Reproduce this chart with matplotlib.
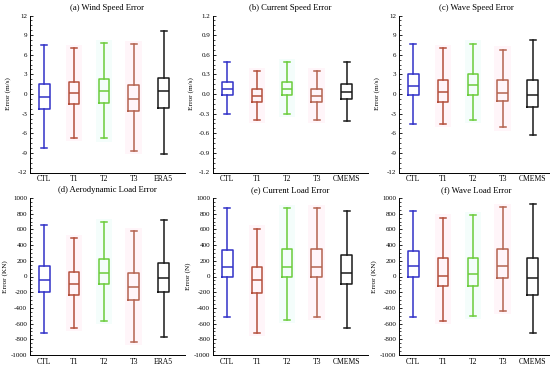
import numpy as np
import matplotlib.pyplot as plt
from matplotlib.ticker import AutoMinorLocator, MultipleLocator

plt.rcParams['font.family'] = ['Liberation Serif', 'DejaVu Serif']
plt.rcParams['axes.unicode_minus'] = False

# stats per box: (whisker high, q3, median, q1, whisker low)
wind_speed = [
    [7.5, 1.6, -0.5, -2.3, -8.3],
    [7.0, 1.9, 0.1, -1.5, -6.7],
    [7.8, 2.3, 0.5, -1.3, -6.8],
    [7.6, 1.4, -0.7, -2.6, -8.7],
    [9.6, 2.5, 0.4, -2.1, -9.1],
]
current_speed = [
    [0.49, 0.19, 0.08, -0.02, -0.31],
    [0.35, 0.07, -0.03, -0.12, -0.39],
    [0.49, 0.19, 0.08, -0.02, -0.31],
    [0.35, 0.07, -0.03, -0.12, -0.39],
    [0.49, 0.15, 0.03, -0.08, -0.41],
]
wave_speed = [
    [7.7, 3.0, 1.2, -0.1, -4.6],
    [7.0, 2.1, 0.3, -1.2, -4.6],
    [7.7, 3.1, 1.3, -0.2, -4.0],
    [6.8, 2.1, 0.2, -1.1, -5.1],
    [8.3, 2.1, -0.2, -2.0, -6.2],
]
aero_load = [
    [650, 140, -40, -200, -720],
    [490, 60, -90, -230, -660],
    [690, 220, 50, -100, -570],
    [580, 50, -130, -300, -830],
    [720, 170, -20, -200, -770],
]
current_load = [
    [870, 340, 120, -10, -510],
    [610, 120, -40, -210, -720],
    [870, 350, 120, -10, -550],
    [870, 350, 120, -10, -510],
    [830, 280, 40, -90, -650],
]
wave_load = [
    [840, 330, 130, -10, -510],
    [750, 230, 10, -120, -570],
    [780, 230, 30, -120, -500],
    [880, 350, 140, -20, -440],
    [920, 230, -20, -230, -720],
]

labels_era = ['CTL', 'T1', 'T2', 'T3', 'ERA5']
labels_cmems = ['CTL', 'T1', 'T2', 'T3', 'CMEMS']
colors = ['#3232c8', '#b4503c', '#6ccc3c', '#b46450', '#1a1a1a']
shade = [None, '#fff5f9', '#f4fdfb', '#fff5f9', None]

panels = [
    ('(a) Wind Speed Error', wind_speed, labels_era, 'Error (m/s)', 12, 3),
    ('(b) Current Speed Error', current_speed, labels_cmems, 'Error (m/s)', 1.2, 0.3),
    ('(c) Wave Speed Error', wave_speed, labels_cmems, 'Error (m/s)', 12, 3),
    ('(d) Aerodynamic Load Error', aero_load, labels_era, 'Error (KN)', 1000, 200),
    ('(e) Current Load Error', current_load, labels_cmems, 'Error (N)', 1000, 200),
    ('(f) Wave Load Error', wave_load, labels_cmems, 'Error (KN)', 1000, 200),
]

fig = plt.figure(figsize=(5.5, 3.65), dpi=100)
lefts = [30, 213, 399]
tops = [15.5, 198]
w_px, h_px = 155, 157
label_off = [-19, -22]

for k, (title, data, labels, ylabel, lim, step) in enumerate(panels):
    r, c = divmod(k, 3)
    ax = fig.add_axes([lefts[c] / 550, 1 - (tops[r] + h_px) / 365, w_px / 550, h_px / 365])
    pos = np.arange(1, 6)
    for i, (hi, q3, med, q1, lo) in enumerate(data):
        if shade[i]:
            ax.fill_between([pos[i] - 0.28, pos[i] + 0.28], lo - 0.04 * lim, hi + 0.04 * lim,
                            color=shade[i], lw=0, zorder=0)
        st = [dict(med=med, q1=q1, q3=q3, whislo=lo, whishi=hi, fliers=[])]
        col = colors[i]
        ax.bxp(st, positions=[pos[i]], widths=0.36, capwidths=0.2, showfliers=False,
               boxprops=dict(color=col, lw=1.1),
               whiskerprops=dict(color=col, lw=1.1),
               capprops=dict(color=col, lw=1.1),
               medianprops=dict(color=col, lw=1.1))
    ax.set_xlim(0.52, 5.72)
    ax.set_ylim(-lim, lim)
    ax.yaxis.set_major_locator(MultipleLocator(step))
    ax.yaxis.set_minor_locator(AutoMinorLocator(4))
    ax.set_xticks(pos)
    ax.set_xticklabels(labels)
    if lim == 1.2:
        ax.set_yticklabels([f'{v:.1f}' for v in ax.get_yticks()])
    ax.tick_params(axis='x', length=0, labelsize=5.5, pad=2)
    ax.tick_params(axis='y', which='major', direction='in', length=2.5, width=0.6, labelsize=5, pad=2)
    ax.tick_params(axis='y', which='minor', direction='in', length=1.2, width=0.5)
    for s in ['top', 'right']:
        ax.spines[s].set_visible(False)
    for s in ['left', 'bottom']:
        ax.spines[s].set_linewidth(0.7)
    ax.set_title(title, fontsize=6.2, pad=4)
    ax.set_ylabel(ylabel, fontsize=5.2)
    ax.yaxis.set_label_coords(label_off[r] / w_px, 0.5)

fig.savefig('out.png', dpi=100)
